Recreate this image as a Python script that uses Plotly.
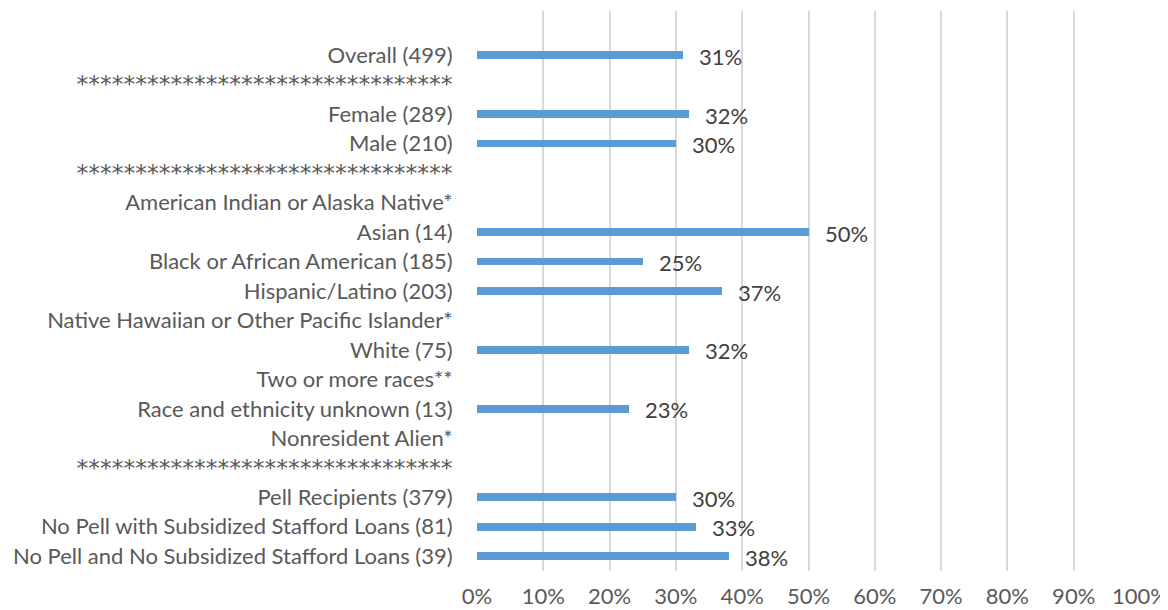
import plotly.graph_objects as go

# Row labels top to bottom (first row is an empty spacer, as in the source)
stars = '<span style="font-family:\'DejaVu Sans\'; font-size:23.5px">' + "*" * 32 + "</span>"
labels = [
    "",
    "Overall (499)",
    stars,
    "Female (289)",
    "Male (210)",
    stars,
    "American Indian or Alaska Native*",
    "Asian (14)",
    "Black or African American (185)",
    "Hispanic/Latino (203)",
    "Native Hawaiian or Other Pacific Islander*",
    "White (75)",
    "Two or more races**",
    "Race and ethnicity unknown (13)",
    "Nonresident Alien*",
    stars,
    "Pell Recipients (379)",
    "No Pell with Subsidized Stafford Loans (81)",
    "No Pell and No Subsidized Stafford Loans (39)",
]
# percent values, None where the row has no bar
values = [None, 31, None, 32, 30, None, None, 50, 25, 37, None, 32, None, 23, None, None, 30, 33, 38]

x_ticks = list(range(0, 101, 10))
x_tick_text = [f"{t}%" for t in x_ticks]

FONT = "Lato"
rows = list(range(len(labels)))

fig = go.Figure()
fig.add_trace(go.Bar(
    x=values,
    y=rows,
    orientation="h",
    width=0.26,
    marker=dict(color="#5B9BD5", line=dict(width=0)),
    hoverinfo="skip",
))

# data labels to the right of each bar
for r, v in zip(rows, values):
    if v is None:
        continue
    fig.add_annotation(
        x=v, y=r, text=f"{v}%", showarrow=False,
        xanchor="left", yanchor="middle", xshift=14, yshift=-1,
        font=dict(family=FONT, size=22, color="#404040"),
    )

# page body has an 8px default margin, so the figure is a bit smaller
fig.update_layout(
    width=1160, height=602,
    margin=dict(l=469, r=28, t=3, b=39),
    paper_bgcolor="white",
    plot_bgcolor="white",
    showlegend=False,
    bargap=0,
    font=dict(family=FONT, size=22, color="#595959"),
)
fig.update_xaxes(
    range=[0, 100],
    tickvals=x_ticks, ticktext=x_tick_text,
    showgrid=True, gridcolor="#D9D9D9", gridwidth=1.5,
    zeroline=False, showline=False, automargin=False,
    ticks="outside", ticklen=6, tickcolor="rgba(0,0,0,0)",
    tickfont=dict(family=FONT, size=22, color="#595959"),
    fixedrange=True,
)
fig.update_yaxes(
    range=[len(labels) - 0.5, -0.5],
    tickvals=rows, ticktext=labels,
    showgrid=False, zeroline=False, showline=False, automargin=False,
    ticks="outside", ticklen=19, tickcolor="rgba(0,0,0,0)",
    tickfont=dict(family=FONT, size=22, color="#595959"),
    fixedrange=True,
)

fig.write_html("out.html", config={"displayModeBar": False})
